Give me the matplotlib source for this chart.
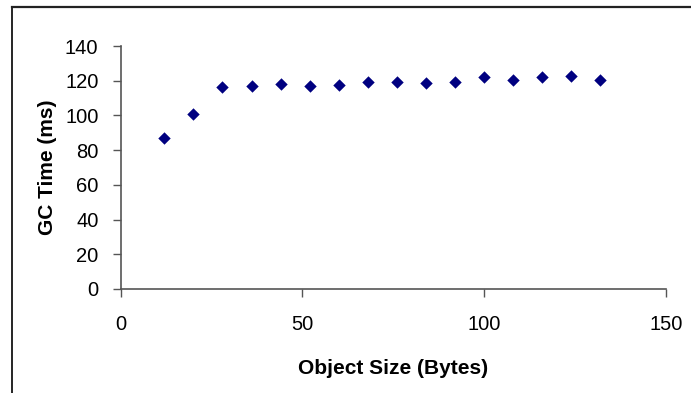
import matplotlib
matplotlib.use("Agg")
import matplotlib.pyplot as plt
from matplotlib.lines import Line2D

# Object size (bytes) and measured GC time (ms)
object_size = [12, 20, 28, 36, 44, 52, 60, 68, 76, 84, 92, 100, 108, 116, 124, 132]
gc_time = [87.0, 101.0, 116.4, 116.8, 118.2, 116.9, 117.7, 119.0, 119.0, 118.6,
           119.0, 122.4, 120.3, 122.3, 122.8, 120.6]

x_ticks = [0, 50, 100, 150]
y_ticks = [0, 20, 40, 60, 80, 100, 120, 140]

plt.rcParams['font.family'] = ['Liberation Sans', 'DejaVu Sans']

W, H = 691, 393
fig = plt.figure(figsize=(W / 100, H / 100), dpi=100)
fig.patch.set_facecolor('white')

# Outer chart frame (top and left edges visible)
fig.add_artist(Line2D([11.5 / W, 11.5 / W], [0, 1 - 6.5 / H], transform=fig.transFigure,
                      color='black', lw=1.2))
fig.add_artist(Line2D([11.5 / W, 1], [1 - 6.5 / H, 1 - 6.5 / H], transform=fig.transFigure,
                      color='#222222', lw=1.6))

ax = fig.add_axes([120.7 / W, 1 - 289 / H, (665.7 - 120.7) / W, (289 - 46) / H])
ax.scatter(object_size, gc_time, marker='D', s=40, color='#000080', linewidths=0, zorder=3,
           clip_on=False)

ax.set_xlim(0, 150)
ax.set_ylim(0, 140)
ax.set_xticks(x_ticks)
ax.set_yticks(y_ticks)
ax.set_xticklabels([str(v) for v in x_ticks])
ax.set_yticklabels([str(v) for v in y_ticks])

for side in ('top', 'right'):
    ax.spines[side].set_visible(False)
for side in ('left', 'bottom'):
    ax.spines[side].set_color('#555555')
    ax.spines[side].set_linewidth(1.2)

ax.tick_params(axis='x', direction='out', length=6, width=1.0, color='#555555',
               labelsize=14.5, pad=13, labelcolor='black')
ax.tick_params(axis='y', direction='out', length=6, width=1.0, color='#555555',
               labelsize=14.5, pad=10, labelcolor='black')

ax.set_xlabel('Object Size (Bytes)', fontsize=15, fontweight='bold', labelpad=18)
ax.set_ylabel('GC Time (ms)', fontsize=15, fontweight='bold', labelpad=6)

fig.savefig('out.png', dpi=100)
